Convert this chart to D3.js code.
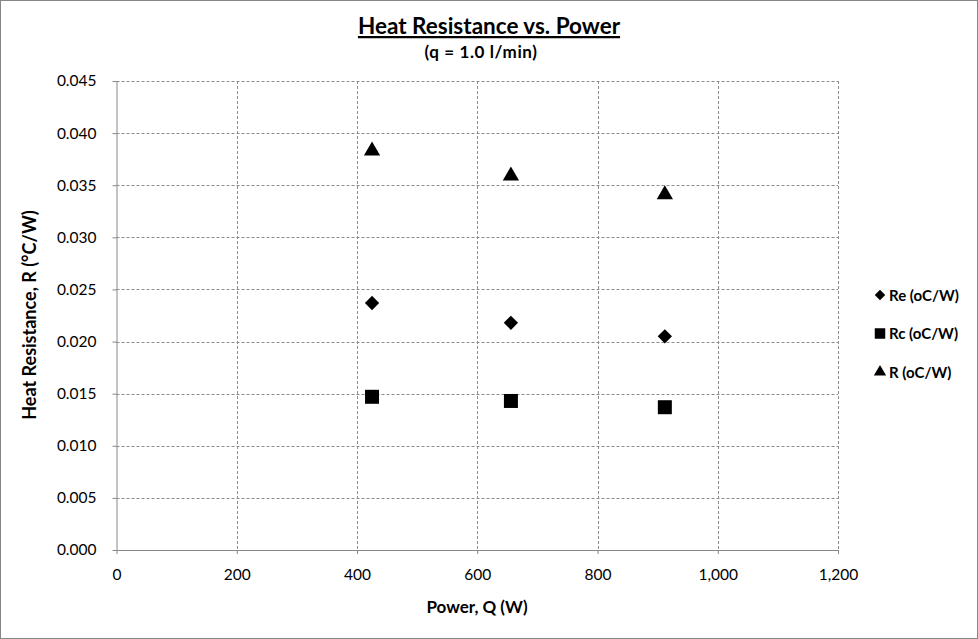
<!DOCTYPE html>
<head>
    <meta charset="utf-8">
    <title>Heat Resistance vs. Power</title>
    <script type="text/javascript" src="https://d3js.org/d3.v7.min.js"></script>
    <style>
        body { margin: 0; background: #fff; }
        svg { font-family: Lato, "Open Sans", sans-serif; }
        .grid line { stroke: #8c8c8c; stroke-dasharray: 3,2; stroke-width: 1; }
        .axis path, .axis line { stroke: #868686; }
        .axis text { font-size: 15.5px; fill: #000; font-family: Lato, "Open Sans", sans-serif; }
    </style>
</head>
<body>
<div id="container"></div>

<script>
    //-----------------------------DATA-----------------------------//
    const power = [425, 656, 912];
    const reVals = [0.0237, 0.0218, 0.0205];
    const rcVals = [0.0147, 0.0143, 0.0137];
    const rVals = [0.0384, 0.0360, 0.0342];
    const seriesNames = ["Re (oC/W)", "Rc (oC/W)", "R (oC/W)"];
    const xTicks = [0, 200, 400, 600, 800, 1000, 1200];
    const yTicks = [0, 0.005, 0.010, 0.015, 0.020, 0.025, 0.030, 0.035, 0.040, 0.045];

    //-----------------------------SVG------------------------------//
    const width = 978, height = 639;
    const plot = {left: 116.5, right: 838, top: 81, bottom: 550};

    const svg = d3.select("#container").append("svg")
        .attr("width", width)
        .attr("height", height);

    svg.append("rect")
        .attr("x", 0.5).attr("y", 0.5)
        .attr("width", width - 1).attr("height", height - 1)
        .attr("fill", "#fff").attr("stroke", "#868686");

    //----------------------------SCALES----------------------------//
    const x = d3.scaleLinear().domain([0, 1200]).range([plot.left, plot.right]);
    const y = d3.scaleLinear().domain([0, 0.045]).range([plot.bottom, plot.top]);

    //-----------------------------GRID-----------------------------//
    svg.append("g").attr("class", "grid")
        .selectAll("line").data(yTicks.slice(1)).enter().append("line")
        .attr("x1", plot.left).attr("x2", plot.right)
        .attr("y1", d => Math.round(y(d)) + 0.5).attr("y2", d => Math.round(y(d)) + 0.5);

    svg.append("g").attr("class", "grid")
        .selectAll("line").data(xTicks.slice(1)).enter().append("line")
        .attr("y1", plot.top).attr("y2", plot.bottom)
        .attr("x1", d => Math.round(x(d)) + 0.5).attr("x2", d => Math.round(x(d)) + 0.5);

    //-----------------------------AXES-----------------------------//
    const xaxis = d3.axisBottom(x)
        .tickValues(xTicks)
        .tickSize(4)
        .tickPadding(15)
        .tickFormat(d3.format(",d"));
    const yaxis = d3.axisLeft(y)
        .tickValues(yTicks)
        .tickSize(4)
        .tickPadding(16)
        .tickFormat(d3.format(".3f"));

    svg.append("g").attr("class", "axis")
        .attr("transform", "translate(0," + plot.bottom + ")")
        .call(xaxis)
        .call(g => g.select(".domain").attr("d", "M" + plot.left + ",0.5H" + plot.right));

    svg.append("g").attr("class", "axis")
        .attr("transform", "translate(" + plot.left + ",0)")
        .call(yaxis)
        .call(g => g.select(".domain").attr("d", "M0.5," + plot.top + "V" + plot.bottom));

    //----------------------------TITLES----------------------------//
    svg.append("text")
        .attr("x", 489).attr("y", 34)
        .attr("text-anchor", "middle")
        .style("font-size", "22.5px").style("font-weight", "bold")
        .style("text-decoration", "underline")
        .text("Heat Resistance vs. Power");

    svg.append("text")
        .attr("x", 481).attr("y", 58)
        .attr("text-anchor", "middle")
        .style("font-size", "17px").style("font-weight", "bold")
        .style("letter-spacing", "0.6px")
        .text("(q = 1.0 l/min)");

    svg.append("text")
        .attr("x", 477).attr("y", 613)
        .attr("text-anchor", "middle")
        .style("font-size", "17px").style("font-weight", "bold")
        .text("Power, Q (W)");

    svg.append("text")
        .attr("transform", "translate(36,315) rotate(-90)")
        .attr("text-anchor", "middle")
        .style("font-size", "18px").style("font-weight", "bold")
        .text("Heat Resistance, R (\u00B0C/W)");

    //----------------------------MARKS-----------------------------//
    const diamond = d3.symbol().type(d3.symbolDiamond2).size(130);
    const square = d3.symbol().type(d3.symbolSquare).size(196);
    const triangle = d3.symbol().type(d3.symbolTriangle).size(115);

    const series = [
        {name: seriesNames[0], values: reVals, sym: diamond, dy: 0},
        {name: seriesNames[1], values: rcVals, sym: square, dy: 0},
        {name: seriesNames[2], values: rVals, sym: triangle, dy: 1}
    ];

    series.forEach(function(s) {
        svg.append("g").selectAll("path")
            .data(power.map((p, i) => ({p: p, v: s.values[i]})))
            .enter().append("path")
            .attr("d", s.sym)
            .attr("transform", d => "translate(" + x(d.p) + "," + (y(d.v) + s.dy) + ")")
            .attr("fill", "#000");
    });

    //----------------------------LEGEND----------------------------//
    const legendSyms = [
        d3.symbol().type(d3.symbolDiamond2).size(70),
        d3.symbol().type(d3.symbolSquare).size(110),
        d3.symbol().type(d3.symbolTriangle).size(65)
    ];
    const legend = svg.append("g")
        .selectAll("g").data(series).enter().append("g")
        .attr("transform", (d, i) => "translate(880," + (295 + i * 38.5) + ")");
    legend.append("path")
        .attr("d", (d, i) => legendSyms[i]())
        .attr("fill", "#000");
    legend.append("text")
        .attr("x", 9).attr("y", 5.5)
        .style("font-size", "15px").style("font-weight", "bold")
        .text(d => d.name);
</script>
</body>
